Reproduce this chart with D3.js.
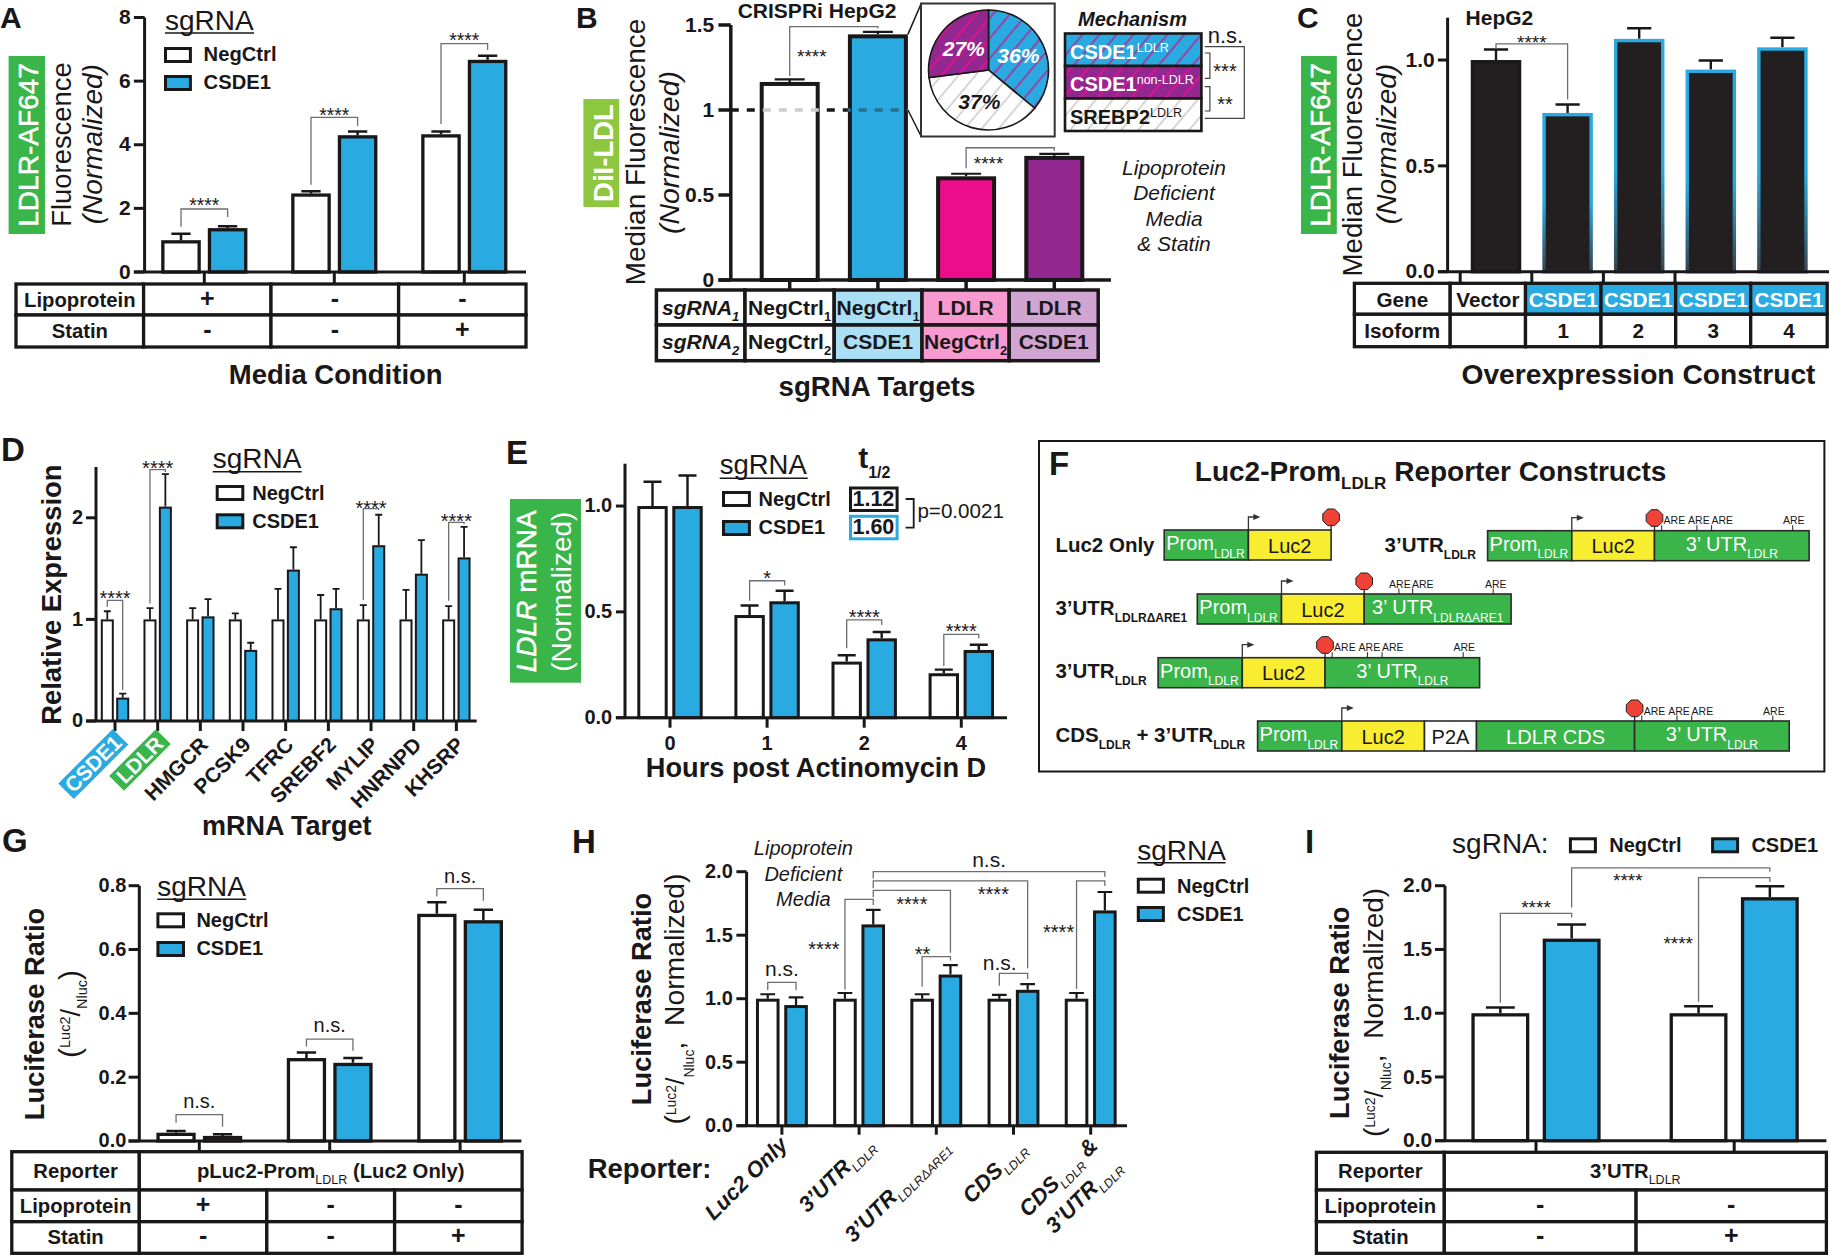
<!DOCTYPE html>
<html>
<head>
<meta charset="utf-8">
<style>
    html, body { margin: 0; padding: 0; background: #fff; }
    text { font-family: "Liberation Sans", Arial, sans-serif; white-space: pre; }
</style>
</head>
<body>
<svg id="container" width="1830" height="1255"></svg>
<script src="https://cdn.jsdelivr.net/npm/d3@7"></script>
<script>
// ---- data ----
const seriesNames = ["NegCtrl", "CSDE1"]

// A
const aGroups = ["a", "b", "c"]
const aNeg = [1.0, 2.47, 4.33]
const aNegTop = [1.2, 2.54, 4.42]
const aCsde = [1.38, 4.3, 6.67]
const aCsdeTop = [1.44, 4.42, 6.8]
const aLipo = ["+", "-", "-"]
const aStatin = ["-", "-", "+"]

// B
const bGroups = ["NN", "NC", "LN", "LC"]
const bVals = [1.165, 1.445, 0.61, 0.73]
const bTop = [1.18, 1.46, 0.625, 0.742]
const bFills = ["#ffffff", "#29abe2", "#ec0d8c", "#92278f"]
const bCellFills = ["#ffffff", "#abdff5", "#f79acf", "#d1a5d1"]
const bRow1 = ["NegCtrl", "NegCtrl", "LDLR", "LDLR"]
const bRow2 = ["NegCtrl", "CSDE1", "NegCtrl", "CSDE1"]
const pieVals = [36, 37, 27]
const pieLabels = ["36%", "37%", "27%"]

// C
const cGroups = ["Vector", "1", "2", "3", "4"]
const cVals = [1.0, 0.75, 1.1, 0.955, 1.06]
const cTop = [1.05, 0.79, 1.15, 0.998, 1.105]

// D
const dTargets = ["CSDE1", "LDLR", "HMGCR", "PCSK9", "TFRC", "SREBF2", "MYLIP", "HNRNPD", "KHSRP"]
const dNeg = [1, 1, 1, 1, 1, 1, 1, 1, 1]
const dNegTop = [1.08, 1.11, 1.11, 1.06, 1.3, 1.24, 1.14, 1.29, 1.13]
const dCsde = [0.23, 2.11, 1.03, 0.7, 1.49, 1.11, 1.73, 1.45, 1.61]
const dCsdeTop = [0.27, 2.43, 1.2, 0.77, 1.71, 1.3, 2.03, 1.78, 1.91]

// E
const eHours = ["0", "1", "2", "4"]
const eNeg = [1, 0.485, 0.265, 0.21]
const eNegTop = [1.115, 0.53, 0.295, 0.227]
const eCsde = [1, 0.55, 0.375, 0.32]
const eCsdeTop = [1.144, 0.6, 0.405, 0.345]

// F
const segWidths = { Prom: 84.2, Luc2: 82.7, UTR: 154.6, dUTR: 146.9, P2A: 52, CDS: 158.1 }
const fSegs = [
    ["Prom", "Luc2"],
    ["Prom", "Luc2", "UTR"],
    ["Prom", "Luc2", "dUTR"],
    ["Prom", "Luc2", "UTR"],
    ["Prom", "Luc2", "P2A", "CDS", "UTR"]
]
const areTicks = [7.2, 42.4, 57.1, 138.2]
const areLabels = [19.9, 44.4, 67.8, 139.3]
const dAreTicks = [34.7, 48.5, 129]
const dAreLabels = [35.7, 58.6, 131.6]

// G
const gGroups = ["a", "b", "c"]
const gNeg = [0.026, 0.26, 0.712]
const gNegTop = [0.031, 0.277, 0.748]
const gCsde = [0.016, 0.245, 0.692]
const gCsdeTop = [0.021, 0.26, 0.725]

// H
const hGroups = ["Luc2 Only", "3UTR", "3UTRdARE1", "CDS", "CDS3UTR"]
const hNeg = [1, 1, 1, 1, 1]
const hNegTop = [1.035, 1.045, 1.035, 1.03, 1.045]
const hCsde = [0.95, 1.585, 1.19, 1.07, 1.695]
const hCsdeTop = [1.01, 1.7, 1.265, 1.115, 1.84]

// I
const iGroups = ["a", "b"]
const iNeg = [1.0, 1.0]
const iNegTop = [1.045, 1.055]
const iCsde = [1.585, 1.91]
const iCsdeTop = [1.695, 1.995]

// ---- helpers ----
const ink = "#1a1718"
const blue = "#29abe2"
const green = "#39b54a"
const root = d3.select("#container")
const defs = root.append("defs")

const sub = (t, size, dy, extra) => Object.assign({ t: t, size: size, dy: dy }, extra || {})

function txt(g, x, y, parts, o) {
    o = o || {}
    const t = g.append("text")
        .attr("transform", `translate(${x},${y}) rotate(${o.rot || 0}) scale(${o.sx || 1},1)`)
        .attr("text-anchor", o.anchor || "start")
        .attr("font-size", o.size || 20)
        .attr("font-weight", o.weight || "normal")
        .attr("font-style", o.style || "normal")
        .attr("fill", o.fill || ink)
    if (o.stroke) t.attr("stroke", o.fill || ink).attr("stroke-width", o.stroke)
    let cur = 0
    const list = Array.isArray(parts) ? parts : [parts]
    list.forEach(p => {
        if (typeof p === "string") p = { t: p }
        const ts = t.append("tspan").text(p.t).attr("dy", (p.dy || 0) - cur)
        cur = p.dy || 0
        if (p.size) ts.attr("font-size", p.size)
        if (p.weight) ts.attr("font-weight", p.weight)
        if (p.style) ts.attr("font-style", p.style)
    })
    return t
}

// y axis, baseline, ticks, bars and error bars of one panel
function barPanel(o) {
    const g = root.append("g")
    const y = d3.scaleLinear().domain(o.yDomain).range([o.y0, o.yTop])
    const half = o.step / 2
    const x0 = d3.scaleBand().domain(o.groups)
        .range([o.first - half, o.first - half + o.step * o.groups.length])
    const n = o.vals.length
    const gap = o.gap || 0
    const total = n * o.w + (n - 1) * gap
    const x1 = d3.scaleBand().domain(d3.range(n)).range([-total / 2, total / 2])
        .paddingInner(n > 1 ? gap / (o.w + gap) : 0)
    const cx = (gi, si) => x0(o.groups[gi]) + half + x1(si) + o.w / 2
    const sw = o.sw || 3

    let marks = []
    o.vals.forEach((vals, si) => vals.forEach((v, gi) => {
        marks.push({ gi, si, v, top: o.tops[si][gi] })
    }))

    // error bars go behind the bars
    g.append("g").selectAll("path").data(marks).join("path")
        .attr("fill", "none").attr("stroke", ink).attr("stroke-width", o.errW || sw * 0.8)
        .attr("d", d => {
            const c = cx(d.gi, d.si), t = y(d.top), cw = o.capW / 2
            return `M${c},${y(d.v)}V${t}M${c - cw},${t}H${c + cw}`
        })

    g.append("g").selectAll("rect").data(marks).join("rect")
        .attr("x", d => cx(d.gi, d.si) - o.w / 2 + sw / 2)
        .attr("width", o.w - sw)
        .attr("y", d => y(d.v) + sw / 2)
        .attr("height", d => Math.max(0, y(0) - y(d.v) - sw / 2))
        .attr("fill", d => o.fills(d.si, d.gi))
        .attr("stroke", d => o.strokes ? o.strokes(d.si, d.gi) : ink)
        .attr("stroke-width", sw)

    // y axis
    const ay = g.append("g").attr("transform", `translate(${o.axisX},0)`).attr("color", ink)
        .call(d3.axisLeft(y).tickValues(o.yTicks).tickFormat(o.fmt)
            .tickSize(o.axisX - o.tickLeft).tickSizeOuter(0)
            .tickPadding(o.tickLeft - o.labelRight).offset(0))
    ay.selectAll("path,line").attr("stroke-width", o.axisW || 3)
    ay.selectAll("text").attr("font-size", o.fs || 21).attr("font-weight", "bold")

    // x axis, ticks only, the baseline is longer than the band scale
    const ax = g.append("g").attr("transform", `translate(${o.tickShift || 0},${o.y0})`).attr("color", ink)
        .call(d3.axisBottom(x0).tickValues(o.xTicks || o.groups)
            .tickFormat(o.xFmt || (() => "")).tickSize(o.xTick).tickPadding(o.xPad || 3).offset(0))
    ax.select(".domain").remove()
    ax.selectAll("line").attr("stroke-width", o.axisW || 3)
    ax.selectAll("text").attr("font-size", o.fs || 21).attr("font-weight", "bold")
    g.append("line").attr("x1", o.tickLeft).attr("x2", o.baseEnd).attr("y1", y(0)).attr("y2", y(0))
        .attr("stroke", ink).attr("stroke-width", o.axisW || 3)

    // significance bracket, ends given as [group, series, value]
    const sig = (a, top, b, label, labelVal, dx, so) => {
        so = Object.assign({}, o.sig, so || {})
        const xa = cx(a[0], a[1]), xb = cx(b[0], b[1])
        g.append("path").attr("fill", "none").attr("stroke", so.line || "#6d6e71").attr("stroke-width", so.lw || 1.3)
            .attr("d", `M${xa},${y(a[2])}V${y(top)}H${xb}V${y(b[2])}`)
        txt(g, (xa + xb) / 2 + (dx || 0), y(labelVal), label, {
            anchor: "middle", size: so.size || 19, sx: so.sx || 1
        })
    }
    return { g, y, x0, cx, sig }
}

function table(xs, ys, rows, o) {
    const g = root.append("g")
    rows.forEach((row, r) => {
        let col = 0
        row.forEach(cell => {
            const span = cell.span || 1
            const x1 = xs[col], x2 = xs[col + span]
            g.append("rect").attr("x", x1).attr("y", ys[r]).attr("width", x2 - x1).attr("height", ys[r + 1] - ys[r])
                .attr("fill", cell.fill || "#fff").attr("stroke", ink).attr("stroke-width", o.sw || 3.3)
            col += span
        })
    })
    rows.forEach((row, r) => {
        let col = 0
        row.forEach(cell => {
            const span = cell.span || 1
            const x1 = xs[col], x2 = xs[col + span]
            const isPm = cell.t === "+" || cell.t === "-"
            if (cell.t) {
                txt(g, (x1 + x2) / 2, o.base[r], cell.t, {
                    anchor: "middle", weight: "bold", size: isPm ? (o.pm || 25) : (o.size || 20.3),
                    fill: cell.color || ink, style: cell.style
                })
            }
            col += span
        })
    })
}

function legend(tx, ty, tw, ulY, tsize, boxX, boxW, boxYs, boxH, textX, textYs, fs) {
    const g = root.append("g")
    txt(g, tx, ty, "sgRNA", { size: tsize })
    g.append("line").attr("x1", tx).attr("x2", tx + tw).attr("y1", ulY).attr("y2", ulY)
        .attr("stroke", ink).attr("stroke-width", 1.6)
    seriesNames.forEach((s, i) => {
        g.append("rect").attr("x", boxX + 1.5).attr("y", boxYs[i] + 1.5).attr("width", boxW - 3).attr("height", boxH - 3)
            .attr("fill", i ? blue : "#fff").attr("stroke", ink).attr("stroke-width", 3)
        txt(g, textX, textYs[i], s, { size: fs, weight: "bold" })
    })
}

function tag(x, y, w, h, fill) {
    root.append("rect").attr("x", x).attr("y", y).attr("width", w).attr("height", h).attr("fill", fill)
}

function hatch(id, bg, line, size, lw, angle) {
    const p = defs.append("pattern").attr("id", id).attr("patternUnits", "userSpaceOnUse")
        .attr("width", size).attr("height", size).attr("patternTransform", `rotate(${angle})`)
    p.append("rect").attr("width", size).attr("height", size).attr("fill", bg)
    p.append("line").attr("x1", size / 2).attr("x2", size / 2).attr("y1", 0).attr("y2", size)
        .attr("stroke", line).attr("stroke-width", lw)
}

const pmCell = v => ({ t: v })
const vert = { rot: -90, anchor: "middle" }
const fills2 = si => si ? blue : "#fff"

// panel letters
const letters = [
    ["A", 0, 28, 30], ["B", 576, 28, 30], ["C", 1297, 28, 30], ["D", 1, 461, 33], ["E", 506, 464, 33],
    ["F", 1049, 475, 33], ["G", 2, 852, 33], ["H", 572, 853, 33], ["I", 1305, 853, 33]
]
letters.forEach(d => txt(root, d[1], d[2], d[0], { size: d[3], weight: "bold" }))

// ---- A ----
const pA = barPanel({
    groups: aGroups, vals: [aNeg, aCsde], tops: [aNegTop, aCsdeTop], fills: fills2,
    yDomain: [0, 8], y0: 272, yTop: 17.5, first: 204.3, step: 130, w: 39.6, gap: 7, capW: 19.3, sw: 3.3, errW: 2.5,
    axisX: 144.6, tickLeft: 133.9, labelRight: 130.7, baseEnd: 526, xTick: 12,
    yTicks: [0, 2, 4, 6, 8], fmt: d3.format("d"), sig: { size: 19.3 }
})
pA.sig([0, 0, 1.42], 1.98, [0, 1, 1.73], "****", 1.9)
pA.sig([1, 0, 2.74], 4.86, [1, 1, 4.59], "****", 4.72)
pA.sig([2, 0, 4.65], 7.18, [2, 1, 6.98], "****", 7.07)
table([16, 143.6, 271, 398.6, 526], [284, 315, 347], [
    [{ t: "Lipoprotein" }].concat(aLipo.map(pmCell)),
    [{ t: "Statin" }].concat(aStatin.map(pmCell))
], { base: [306.7, 338.3] })
tag(8.6, 56, 36.4, 178, green)
txt(root, 38, 145, "LDLR-AF647", Object.assign({ size: 28, fill: "#fff", stroke: 0.5 }, vert))
txt(root, 70.7, 144.5, "Fluorescence", Object.assign({ size: 27.4 }, vert))
txt(root, 101.8, 144.2, "(Normalized)", Object.assign({ size: 28, style: "italic" }, vert))
legend(165, 30, 89, 33, 28, 164, 27.9, [47, 75], 16, 203.6, [61, 89], 20.2)
txt(root, 335.7, 384, "Media Condition", { anchor: "middle", size: 27.5, weight: "bold" })

// ---- B ----
const pB = barPanel({
    groups: bGroups, vals: [bVals], tops: [bTop], fills: (s, g) => bFills[g],
    yDomain: [0, 1.5], y0: 280, yTop: 25, first: 789.7, step: 88.2, w: 60, capW: 30, sw: 4, errW: 2.2,
    axisX: 730.8, tickLeft: 718.4, labelRight: 714.3, baseEnd: 1111, xTick: 10, axisW: 3.5,
    yTicks: [0, 0.5, 1, 1.5], fmt: d => String(d), fs: 21, sig: { size: 19 }
})
pB.sig([0, 0, 1.2], 1.49, [1, 0, 1.48], "****", 1.276, -22)
pB.sig([2, 0, 0.657], 0.778, [3, 0, 0.761], "****", 0.645, -21.6)
// dashed line at 1, lighter or darker where it crosses the bars
const b0 = pB.cx(0, 0), b1 = pB.cx(1, 0)
const dash = [[730.8, b0 - 30, ink], [b0 - 30, b0 + 30, "#cccccc"], [b0 + 30, b1 - 30, ink], [b1 - 30, b1 + 30, "#2a6e8c"]]
dash.forEach(d => {
    pB.g.append("line").attr("x1", d[0]).attr("x2", d[1]).attr("y1", pB.y(1)).attr("y2", pB.y(1))
        .attr("stroke", d[2]).attr("stroke-width", 3.5).attr("stroke-dasharray", "8,8")
        .attr("stroke-dashoffset", d[0] - 730.8)
})
hatch("hBlue", blue, "#b5278f", 13, 1.6, 40)
hatch("hPurple", "#92278f", "#ec0d8c", 13, 1.6, 40)
hatch("hWhite", "#ffffff", "#c4c4c4", 13, 1.4, 40)
const pieFills = ["url(#hBlue)", "url(#hWhite)", "url(#hPurple)"]
// zoom lines and inset
root.append("path").attr("fill", "none").attr("stroke", ink).attr("stroke-width", 1.5)
    .attr("d", `M${b1 + 30},${pB.y(1.445)}L921,4M${b1 + 30},${pB.y(1)}L921,136`)
root.append("rect").attr("x", 921).attr("y", 3.5).attr("width", 133.7).attr("height", 133)
    .attr("fill", "#fff").attr("stroke", "#333").attr("stroke-width", 2)
const pieG = root.append("g").attr("transform", "translate(988.5,70)")
const pieArcs = d3.pie().sort(null)(pieVals)
const arc = d3.arc().innerRadius(0).outerRadius(60)
pieG.selectAll("path").data(pieArcs).join("path")
    .attr("d", arc).attr("fill", (d, i) => pieFills[i])
    .attr("stroke", ink).attr("stroke-width", 1.6)
const labelArc = d3.arc().innerRadius(33).outerRadius(33)
pieArcs.forEach((d, i) => {
    const c = labelArc.centroid(d)
    txt(root, 988.5 + c[0], 70 + c[1] + 7.5, pieLabels[i], {
        anchor: "middle", size: 21, weight: "bold", style: "italic", fill: i === 1 ? ink : "#fff"
    })
})
// mechanism key
txt(root, 1078, 26, "Mechanism", { size: 20, weight: "bold", style: "italic" })
const mechFills = ["url(#hBlue)", "url(#hPurple)", "url(#hWhite)"]
const mechNames = [["CSDE1", "LDLR"], ["CSDE1", "non-LDLR"], ["SREBP2", "LDLR"]]
const mechY = [33.5, 66, 98.5]
mechNames.forEach((d, i) => {
    root.append("rect").attr("x", 1065).attr("y", mechY[i]).attr("width", 136.4).attr("height", 32.5)
        .attr("fill", mechFills[i]).attr("stroke", ink).attr("stroke-width", 2.6)
    txt(root, 1070, mechY[i] + 25, [d[0], sub(d[1], 12.5, -7, { weight: "normal" })], {
        size: 20, weight: "bold", fill: i === 2 ? ink : "#fff"
    })
})
root.append("path").attr("fill", "none").attr("stroke", "#444").attr("stroke-width", 1.2)
    .attr("d", "M1204.8,46.7H1244.3V118.3H1204.8M1204.8,53H1209.9V78.3H1204.8M1204.8,86.7H1209.9V111H1204.8")
txt(root, 1225.5, 42.7, "n.s.", { anchor: "middle", size: 22 })
txt(root, 1225, 78.4, "***", { anchor: "middle", size: 20 })
txt(root, 1225, 111, "**", { anchor: "middle", size: 20 })
;["Lipoprotein", "Deficient", "Media", "& Statin"].forEach((s, i) => {
    txt(root, 1174, [175, 200, 226, 250.7][i], s, { anchor: "middle", size: 21, style: "italic" })
})
const bSub = (n, it) => sub(String(n), 13, 6, it ? { style: "italic" } : {})
const nc1 = n => ["NegCtrl", bSub(n)]
table([656.4, 745, 834.2, 922, 1009.2, 1098.2], [290, 325, 360.7], [
    [{ t: ["sgRNA", bSub(1, true)], style: "italic" }].concat(bRow1.map((s, i) => ({ t: s === "NegCtrl" ? nc1(1) : s, fill: bCellFills[i] }))),
    [{ t: ["sgRNA", bSub(2, true)], style: "italic" }].concat(bRow2.map((s, i) => ({ t: s === "NegCtrl" ? nc1(2) : s, fill: bCellFills[i] })))
], { base: [315, 349.3], size: 21, sw: 3.5 })
tag(583.4, 99, 35.8, 108, "#8dc63f")
txt(root, 613, 153, "DiI-LDL", Object.assign({ size: 27.5, fill: "#fff", weight: "bold" }, vert))
txt(root, 645.4, 152, "Median Fluorescence", Object.assign({ size: 27.9 }, vert))
txt(root, 678.5, 152.5, "(Normalized)", Object.assign({ size: 28.5, style: "italic" }, vert))
txt(root, 737.7, 18, "CRISPRi HepG2", { size: 21, weight: "bold" })
txt(root, 877, 396, "sgRNA Targets", { anchor: "middle", size: 27.7, weight: "bold" })

// ---- C ----
defs.append("linearGradient").attr("id", "fadeBlue").attr("x1", 0).attr("x2", 0).attr("y1", 0).attr("y2", 1)
    .selectAll("stop").data([[0, blue], [0.55, blue], [1, "#37444e"]]).join("stop")
    .attr("offset", d => d[0]).attr("stop-color", d => d[1])
const pC = barPanel({
    groups: cGroups, vals: [cVals], tops: [cTop], fills: () => "#231f20",
    strokes: (s, g) => g ? "url(#fadeBlue)" : ink,
    yDomain: [0, 1.2], y0: 271.7, yTop: 17.7, first: 1496, step: 71.6, w: 50.5, capW: 24.2, sw: 3.4, errW: 2.4,
    axisX: 1447.6, tickLeft: 1437.9, labelRight: 1434.7, baseEnd: 1829, xTick: 12, tickShift: -35.8,
    xTicks: cGroups.slice(0, 4), yTicks: [0, 0.5, 1], fmt: d3.format(".1f"), sig: { size: 19 }
})
pC.sig([0, 0, 1.055], 1.076, [1, 0, 0.814], "****", 1.05)
txt(root, 1465.6, 25, "HepG2", { size: 21, weight: "bold" })
const cBlue = { fill: blue, color: "#fff" }
table([1354.4, 1450.2, 1525.5, 1601, 1675.7, 1750.7, 1827.2], [283.3, 314.3, 346.7], [
    [{ t: "Gene" }].concat(cGroups.map((d, i) => i ? Object.assign({ t: "CSDE1" }, cBlue) : { t: d })),
    [{ t: "Isoform" }].concat(cGroups.map((d, i) => ({ t: i ? d : "" })))
], { base: [306.7, 338], size: 20.7 })
tag(1301, 56, 35.8, 178, green)
txt(root, 1329.5, 145, "LDLR-AF647", Object.assign({ size: 28, fill: "#fff", stroke: 0.5 }, vert))
txt(root, 1362.4, 144.5, "Median Fluorescence", Object.assign({ size: 27.6 }, vert))
txt(root, 1395.8, 144, "(Normalized)", Object.assign({ size: 28, style: "italic" }, vert))
txt(root, 1638.5, 384, "Overexpression Construct", { anchor: "middle", size: 28.2, weight: "bold" })

// ---- D ----
const pD = barPanel({
    groups: dTargets, vals: [dNeg, dCsde], tops: [dNegTop, dCsdeTop], fills: fills2,
    yDomain: [0, 2.5], y0: 721, yTop: 467, first: 115, step: 42.67, w: 13, gap: 2.4, capW: 7, sw: 2, errW: 1.8,
    axisX: 96, tickLeft: 86, labelRight: 83, baseEnd: 476.7, xTick: 10,
    yTicks: [0, 1, 2], fmt: d3.format("d"), fs: 20, sig: { size: 20 }
})
pD.sig([0, 0, 1.125], 1.187, [0, 1, 0.305], "****", 1.14)
pD.sig([1, 0, 1.157], 2.475, [1, 1, 2.45], "****", 2.42)
pD.sig([6, 0, 1.19], 2.09, [6, 1, 2.075], "****", 2.03)
pD.sig([8, 0, 1.184], 1.954, [8, 1, 1.94], "****", 1.9)
const dTags = { CSDE1: [blue, -21.7, 43, 77, 22], LDLR: [green, -17.7, 39, 66, 21] }
dTargets.forEach(name => {
    const tick = pD.x0(name) + pD.x0.bandwidth() / 2
    const t = dTags[name]
    if (t) {
        const tg = root.append("g").attr("transform", `translate(${tick + t[1]},${t[2] + 721}) rotate(-45)`)
        tg.append("rect").attr("x", -t[3] / 2).attr("y", -t[4] / 2).attr("width", t[3]).attr("height", t[4]).attr("fill", t[0])
        txt(tg, 0, 7, name, { anchor: "middle", size: 21, weight: "bold", fill: "#fff" })
    } else {
        txt(root, tick + 9, 746, name, { anchor: "end", rot: -45, size: 21, weight: "bold" })
    }
})
txt(root, 60.7, 594.7, "Relative Expression", Object.assign({ size: 27.4, weight: "bold" }, vert))
legend(212.7, 468.3, 89, 471.7, 28, 215.7, 28.6, [485, 513.3], 16, 252.3, [500, 527.7], 20)
txt(root, 286.7, 835, "mRNA Target", { anchor: "middle", size: 27, weight: "bold" })

// ---- E ----
const pE = barPanel({
    groups: eHours, vals: [eNeg, eCsde], tops: [eNegTop, eCsdeTop], fills: fills2,
    yDomain: [0, 1.2], y0: 717.7, yTop: 463.7, first: 670, step: 97.1, w: 30.4, gap: 4.6, capW: 18, sw: 3,
    axisX: 625, tickLeft: 615.9, labelRight: 612.2, baseEnd: 1007, xTick: 10, xPad: 8, xFmt: d => d,
    yTicks: [0, 0.5, 1], fmt: d3.format(".1f"), fs: 20, sig: { size: 20 }
})
pE.sig([1, 0, 0.552], 0.647, [1, 1, 0.625], "*", 0.628)
pE.sig([2, 0, 0.328], 0.462, [2, 1, 0.438], "****", 0.445)
pE.sig([3, 0, 0.244], 0.394, [3, 1, 0.375], "****", 0.375)
tag(510, 499, 71, 183.7, green)
txt(root, 535.5, 591.3, [{ t: "LDLR", style: "italic" }, " mRNA"], Object.assign({ size: 28, fill: "#fff", stroke: 0.5 }, vert))
txt(root, 571, 591.7, "(Normalized)", Object.assign({ size: 28, fill: "#fff" }, vert))
legend(719.7, 474.3, 88, 478.3, 27.5, 722, 28.9, [491, 520], 16, 758.5, [505.7, 534.3], 20)
txt(root, 858.2, 468.3, ["t", sub("1/2", 16, 10)], { size: 30, weight: "bold" })
;[["1.12", ink, 486.7, 506], ["1.60", blue, 515, 534.3]].forEach(d => {
    root.append("rect").attr("x", 850.5).attr("y", d[2] + 1.3).attr("width", 46.6).attr("height", 22.5)
        .attr("fill", "#fff").attr("stroke", d[1]).attr("stroke-width", 3)
    txt(root, 873.4, d[3], d[0], { anchor: "middle", size: 21.5, weight: "bold" })
})
root.append("path").attr("fill", "none").attr("stroke", ink).attr("stroke-width", 1.8).attr("d", "M905.6,499H913.7V527.7H905.6")
txt(root, 917.4, 517.7, "p=0.0021", { size: 20.6 })
txt(root, 816, 776.7, "Hours post Actinomycin D", { anchor: "middle", size: 27.2, weight: "bold" })

// ---- F ----
root.append("rect").attr("x", 1039).attr("y", 441).attr("width", 785.4).attr("height", 330.5)
    .attr("fill", "none").attr("stroke", ink).attr("stroke-width", 2)
txt(root, 1194.8, 480.7, ["Luc2-Prom", sub("LDLR", 17, 8), " Reporter Constructs"], { size: 28, weight: "bold" })
const fX = [1164.2, 1487.6, 1197.3, 1158.1, 1257.6]
const fY = [530, 530.7, 594, 657.7, 721]
const lsub = (s) => sub(s, 12, 7)
const fLabels = [
    [1055.4, 551.7, ["Luc2 Only"]],
    [1384.6, 551.7, ["3’UTR", lsub("LDLR")]],
    [1055.4, 615, ["3’UTR", lsub("LDLRΔARE1")]],
    [1055.4, 678.3, ["3’UTR", lsub("LDLR")]],
    [1055.4, 741.7, ["CDS", lsub("LDLR"), " + 3’UTR", lsub("LDLR")]]
]
fSegs.forEach((segs, r) => {
    const g = root.append("g")
    const y = fY[r], h = 30
    let x = fX[r]
    txt(g, fLabels[r][0], fLabels[r][1], fLabels[r][2], { size: 20.5, weight: "bold" })
    let arrowX = null, utrX = null, utrName = null
    segs.forEach(s => {
        const w = segWidths[s]
        const fill = s === "Luc2" ? "#f9ed32" : s === "P2A" ? "#fff" : green
        g.append("rect").attr("x", x).attr("y", y).attr("width", w).attr("height", h)
            .attr("fill", fill).attr("stroke", "#2b2b2b").attr("stroke-width", 1.6)
        const mid = x + w / 2
        if (s === "Prom") {
            txt(g, x + 2, y + 20, ["Prom", sub("LDLR", 12, 7.5)], { size: 20, fill: "#fff" })
            arrowX = x + w
        }
        if (s === "Luc2") txt(g, mid, y + 22.5, "Luc2", { size: 20, anchor: "middle" })
        if (s === "P2A") txt(g, mid, y + 22.5, "P2A", { size: 20, anchor: "middle" })
        if (s === "CDS") txt(g, mid, y + 22.5, "LDLR CDS", { size: 20, anchor: "middle", fill: "#fff" })
        if (s === "UTR" || s === "dUTR") {
            utrX = x
            utrName = s
            txt(g, mid, y + 20, ["3’ UTR", sub(s === "UTR" ? "LDLR" : "LDLRΔARE1", 12, 7.5)], { size: 20, anchor: "middle", fill: "#fff" })
        }
        x += w
    })
    const stopX = utrX === null ? x : utrX
    // promoter arrow
    g.append("path").attr("fill", "none").attr("stroke", "#333").attr("stroke-width", 1.3)
        .attr("d", `M${arrowX},${y}v-13h6`)
    g.append("path").attr("fill", "#333").attr("d", `M${arrowX + 5},${y - 16}l7,3l-7,3z`)
    // stop sign
    g.append("line").attr("x1", stopX).attr("x2", stopX).attr("y1", y).attr("y2", y - 5).attr("stroke", "#222").attr("stroke-width", 1.3)
    const oct = d3.range(8).map(i => {
        const a = (22.5 + 45 * i) * Math.PI / 180
        return [stopX + 9 * Math.cos(a), y - 12.7 + 9 * Math.sin(a)].join(",")
    }).join(" ")
    g.append("polygon").attr("points", oct).attr("fill", "#ef4136").attr("stroke", "#222").attr("stroke-width", 1)
    // ARE sites
    if (utrX !== null) {
        const ticks = utrName === "UTR" ? areTicks : dAreTicks
        const labs = utrName === "UTR" ? areLabels : dAreLabels
        ticks.forEach((t, i) => {
            g.append("line").attr("x1", utrX + t).attr("x2", utrX + t).attr("y1", y).attr("y2", y - 5.5)
                .attr("stroke", "#222").attr("stroke-width", 1)
            txt(g, utrX + labs[i], y - 6.3, "ARE", { size: 10.5, anchor: "middle" })
        })
    }
})

// ---- G ----
const pG = barPanel({
    groups: gGroups, vals: [gNeg, gCsde], tops: [gNegTop, gCsdeTop], fills: fills2,
    yDomain: [0, 0.8], y0: 1141, yTop: 885.7, first: 199.3, step: 130.4, w: 39.3, gap: 7.2, capW: 19.3, sw: 3.3, errW: 2.5,
    axisX: 139.3, tickLeft: 128.6, labelRight: 126.4, baseEnd: 521.4, xTick: 11,
    yTicks: [0, 0.2, 0.4, 0.6, 0.8], fmt: d3.format(".1f"), fs: 20, sig: { size: 20 }
})
pG.sig([0, 0, 0.0575], 0.0825, [0, 1, 0.045], "n.s.", 0.104)
pG.sig([1, 0, 0.296], 0.319, [1, 1, 0.283], "n.s.", 0.34)
pG.sig([2, 0, 0.766], 0.791, [2, 1, 0.753], "n.s.", 0.807)
const lipoG = ["+", "-", "-"], statinG = ["-", "-", "+"]
table([11.8, 139.3, 266.8, 394.6, 522.1], [1151.7, 1190, 1221.7, 1253.3], [
    [{ t: "Reporter" }, { t: ["pLuc2-Prom", sub("LDLR", 12.5, 6, { weight: "normal" }), " (Luc2 Only)"], span: 3 }],
    [{ t: "Lipoprotein" }].concat(lipoG.map(pmCell)),
    [{ t: "Statin" }].concat(statinG.map(pmCell))
], { base: [1178, 1212.7, 1244.3] })
txt(root, 43.6, 1014, "Luciferase Ratio", Object.assign({ size: 27.3, weight: "bold" }, vert))
txt(root, 80.4, 1014, [{ t: "(", size: 30 }, sub("Luc2", 14.5, -10), { t: "/", size: 27 }, sub("Nluc", 14.5, 6.7), { t: ")", size: 30 }], Object.assign({ size: 27 }, vert))
legend(157.2, 896, 89, 899.3, 28, 156.4, 28.6, [912.3, 941], 16, 196.4, [926.7, 955], 20)

// ---- H ----
const pH = barPanel({
    groups: hGroups, vals: [hNeg, hCsde], tops: [hNegTop, hCsdeTop], fills: fills2,
    yDomain: [0, 2], y0: 1125.7, yTop: 871.7, first: 781.9, step: 77.2, w: 23.6, gap: 4.7, capW: 14.7, sw: 3, errW: 2.2,
    axisX: 746.6, tickLeft: 736.4, labelRight: 732.8, baseEnd: 1127, xTick: 9,
    yTicks: [0, 0.5, 1, 1.5, 2], fmt: d3.format(".1f"), fs: 20, sig: { size: 20 }
})
const ns = { size: 21 }
pH.sig([0, 0, 1.068], 1.129, [0, 1, 1.068], "n.s.", 1.178, 0, ns)
pH.sig([1, 0, 1.073], 1.782, [1, 1, 1.737], "****", 1.339, -35.2)
pH.sig([1, 1, 1.798], 1.853, [2, 1, 1.362], "****", 1.693, 0)
pH.sig([2, 0, 1.094], 1.331, [2, 1, 1.3], "**", 1.294, -13.8)
pH.sig([3, 0, 1.102], 1.2, [3, 1, 1.155], "n.s.", 1.226, -13.8, ns)
pH.sig([1, 1, 1.869], 1.927, [3, 1, 1.239], "****", 1.766, 42.9)
pH.sig([1, 1, 1.947], 2.0, [4, 1, 1.96], "n.s.", 2.04, 0, ns)
pH.sig([4, 0, 1.076], 1.927, [4, 1, 1.887], "****", 1.47, -32.1)
;["Lipoprotein", "Deficient", "Media"].forEach((s, i) => {
    txt(root, 803.3, [855, 880.7, 906][i], s, { anchor: "middle", size: 20, style: "italic" })
})
txt(root, 650.9, 999, "Luciferase Ratio", Object.assign({ size: 27.3, weight: "bold" }, vert))
txt(root, 684.2, 999, [{ t: "(", size: 28 }, sub("Luc2", 14, -8), { t: "/", size: 26 }, sub("Nluc", 14, 9.4), ",", "  Normalized)"], Object.assign({ size: 28.3 }, vert))
legend(1137.2, 860, 88.4, 862.7, 28, 1136.8, 28.1, [877.7, 906], 16, 1177, [892.7, 920.7], 20)
txt(root, 587.7, 1177.7, "Reporter:", { size: 27.5, weight: "bold" })
const hl = { anchor: "end", rot: -45, size: 22, weight: "bold", style: "italic" }
const hsub = s => sub(s, 12.5, 6, { weight: "normal" })
txt(root, 789, 1146, "Luc2 Only", hl)
txt(root, 875, 1146, ["3’UTR", hsub("LDLR")], hl)
txt(root, 950, 1147, ["3’UTR", hsub("LDLRΔARE1")], hl)
txt(root, 1027, 1149, ["CDS", hsub("LDLR")], hl)
txt(root, 1099, 1147, ["CDS", hsub("LDLR"), " &"], hl)
txt(root, 1122, 1167, ["3’UTR", hsub("LDLR")], hl)

// ---- I ----
const pI = barPanel({
    groups: iGroups, vals: [iNeg, iCsde], tops: [iNegTop, iCsdeTop], fills: fills2,
    yDomain: [0, 2], y0: 1140.7, yTop: 885.7, first: 1536, step: 198.2, w: 57.9, gap: 13.4, capW: 28.9, sw: 3.3, errW: 2.5,
    axisX: 1445, tickLeft: 1435, labelRight: 1432.3, baseEnd: 1826.4, xTick: 11,
    yTicks: [0, 0.5, 1, 1.5, 2], fmt: d3.format(".1f"), sig: { size: 19 }
})
pI.sig([0, 0, 1.082], 1.783, [0, 1, 1.75], "****", 1.777)
pI.sig([0, 1, 1.83], 2.14, [1, 1, 2.11], "****", 1.987, -42.9)
pI.sig([1, 0, 1.09], 2.063, [1, 1, 2.03], "****", 1.499, -56)
txt(root, 1452.1, 853.3, "sgRNA:", { size: 28 })
seriesNames.forEach((s, i) => {
    root.append("rect").attr("x", [1570.4, 1712.6][i]).attr("y", 838.8).attr("width", 25).attr("height", 13)
        .attr("fill", i ? blue : "#fff").attr("stroke", ink).attr("stroke-width", 3)
    txt(root, [1609.3, 1751.4][i], 851.7, s, { size: 20, weight: "bold" })
})
table([1316.4, 1444.3, 1636.1, 1826.4], [1152.3, 1190, 1221.7, 1253.3], [
    [{ t: "Reporter" }, { t: ["3’UTR", sub("LDLR", 12.5, 6, { weight: "normal" })], span: 2 }],
    [{ t: "Lipoprotein" }, pmCell("-"), pmCell("-")],
    [{ t: "Statin" }, pmCell("-"), pmCell("+")]
], { base: [1178, 1212.7, 1244.3] })
txt(root, 1348.5, 1012.7, "Luciferase Ratio", Object.assign({ size: 27.3, weight: "bold" }, vert))
txt(root, 1382.5, 1012.5, [{ t: "(", size: 28 }, sub("Luc2", 14, -8), { t: "/", size: 26 }, sub("Nluc", 14, 8), ",", "  Normalized)"], Object.assign({ size: 28 }, vert))
</script>
</body>
</html>
